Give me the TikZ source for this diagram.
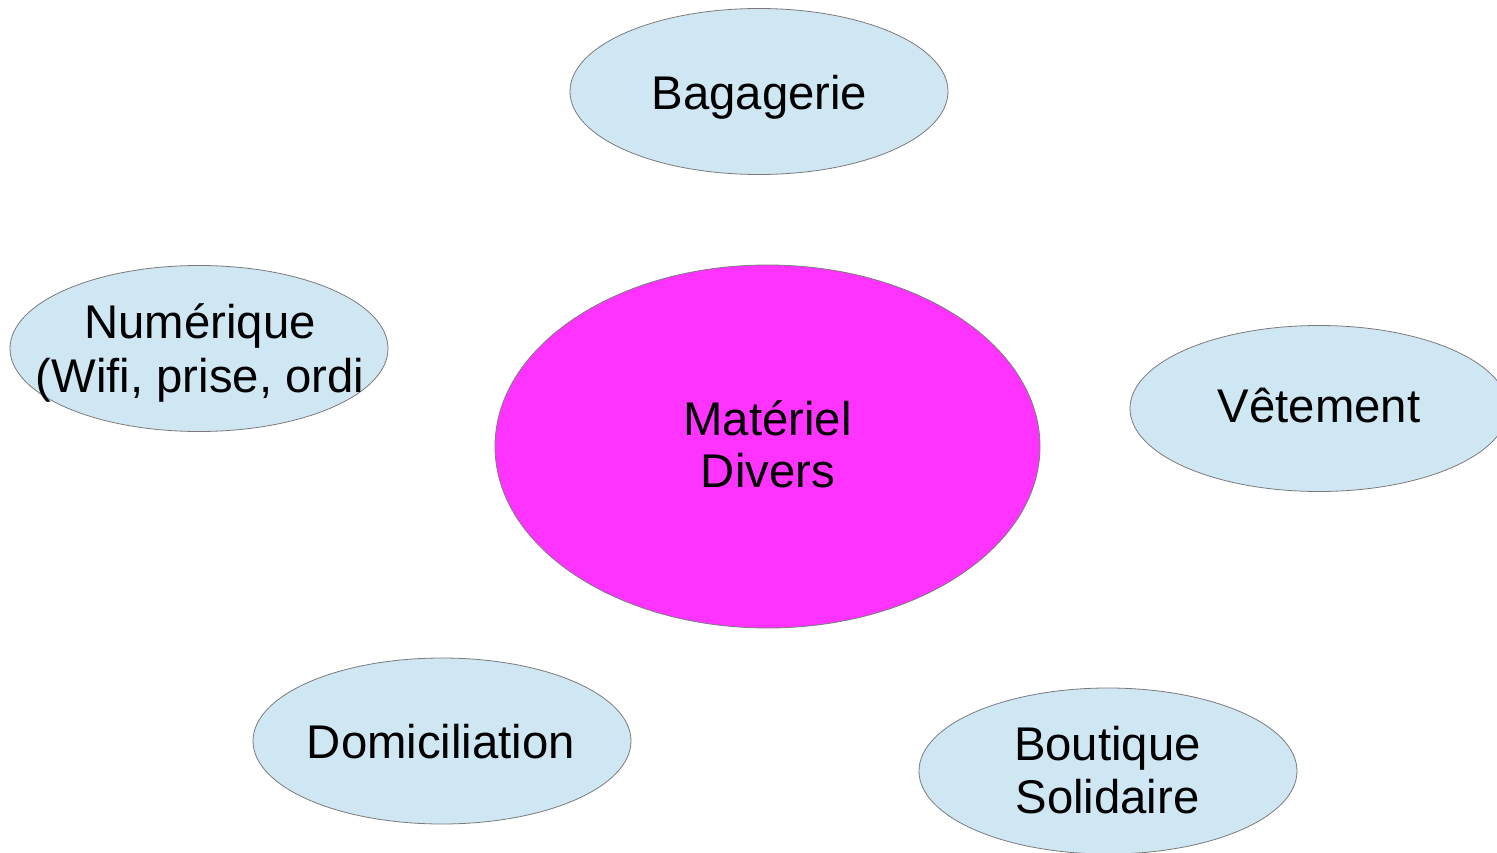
\documentclass[tikz,border=0pt]{standalone}
\usepackage{fontspec}
\setmainfont{Liberation Sans}
\usetikzlibrary{shapes.geometric}
\definecolor{pale}{HTML}{CFE6F3}
\definecolor{hub}{HTML}{FF33FF}
\definecolor{rim}{HTML}{7A7A7A}
\begin{document}
\begin{tikzpicture}[x=1pt,y=-1pt,
  blob/.style={ellipse, draw=rim, line width=0.8pt, fill=pale, inner sep=0pt,
    minimum width=378pt, minimum height=166pt},
  hubblob/.style={blob, fill=hub, minimum width=545pt, minimum height=363pt},
  txt/.style={anchor=base, inner sep=0pt, font=\fontsize{47.3}{54}\selectfont}]
\useasboundingbox (0,0) rectangle (1497,853);
\clip (0,0) rectangle (1497,853);
% ellipses
\node[blob] (bag) at (759,91.5) {};
\node[blob] (num) at (199,348.5) {};
\node[hubblob] (mat) at (767.5,446.5) {};
\node[blob] (vet) at (1319,408.5) {};
\node[blob] (dom) at (442,741) {};
\node[blob] (bou) at (1108,771) {};
% texts
\node[txt] (bagT) at (759.5,110) {Bagagerie};
\node[txt] (numT1) at (200,338) {Numérique};
\node[txt] (numT2) at (200,392) {(Wifi, prise, ordi};
\node[txt] (matT1) at (767.5,435) {Matériel};
\node[txt] (matT2) at (768,487) {Divers};
\node[txt] (vetT) at (1319,422) {Vêtement};
\node[txt] (domT) at (441,758) {Domiciliation};
\node[txt] (bouT1) at (1107.5,760) {Boutique};
\node[txt] (bouT2) at (1107.5,813) {Solidaire};
\end{tikzpicture}
\end{document}
